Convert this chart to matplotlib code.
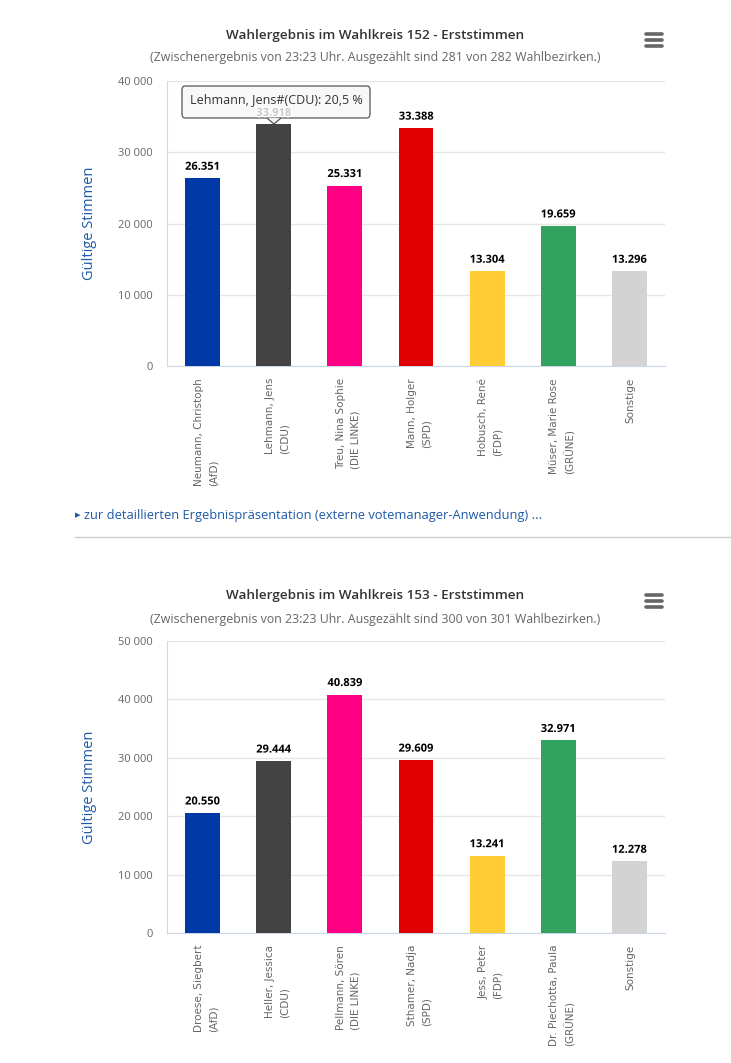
import matplotlib
matplotlib.use("Agg")
import matplotlib.pyplot as plt
import matplotlib.patheffects as pe
from matplotlib.patches import FancyBboxPatch, Polygon
from matplotlib.lines import Line2D

plt.rcParams['font.family'] = ['Open Sans', 'DejaVu Sans']

# ---------------- data ----------------
cand_152 = ["Neumann, Christoph\n(AfD)", "Lehmann, Jens\n(CDU)", "Treu, Nina Sophie\n(DIE LINKE)",
            "Mann, Holger\n(SPD)", "Hobusch, René\n(FDP)", "Müser, Marie Rose\n(GRÜNE)", "Sonstige"]
votes_152 = [26351, 33918, 25331, 33388, 13304, 19659, 13296]
ymax_152 = 40000
sub_152 = "(Zwischenergebnis von 23:23 Uhr. Ausgezählt sind 281 von 282 Wahlbezirken.)"
title_152 = "Wahlergebnis im Wahlkreis 152 - Erststimmen"

cand_153 = ["Droese, Siegbert\n(AfD)", "Heller, Jessica\n(CDU)", "Pellmann, Sören\n(DIE LINKE)",
            "Sthamer, Nadja\n(SPD)", "Jess, Peter\n(FDP)", "Dr. Piechotta, Paula\n(GRÜNE)", "Sonstige"]
votes_153 = [20550, 29444, 40839, 29609, 13241, 32971, 12278]
ymax_153 = 50000
sub_153 = "(Zwischenergebnis von 23:23 Uhr. Ausgezählt sind 300 von 301 Wahlbezirken.)"
title_153 = "Wahlergebnis im Wahlkreis 153 - Erststimmen"

colors = ["#0039a6", "#434343", "#ff0084", "#e10000", "#ffcc33", "#31a35f", "#d3d3d3"]
tooltip_text = "Lehmann, Jens#(CDU): 20,5 %"
link_text = "zur detaillierten Ergebnispräsentation (externe votemanager-Anwendung) ..."

W, H = 731, 1063
fig = plt.figure(figsize=(W / 100, H / 100), dpi=100)


def fy(y):  # pixel y from top -> figure fraction
    return 1 - y / H


def fx(x):
    return x / W


def fmt_space(v):
    return f"{int(v):,}".replace(",", " ")


def fmt_dot(v):
    return f"{int(v):,}".replace(",", ".")


def draw_chart(top, bottom, title, sub, cands, votes, ymax, title_y, sub_y, hover=None):
    ax = fig.add_axes([fx(167), fy(bottom), fx(665) - fx(167), fy(top) - fy(bottom)])
    x = list(range(len(cands)))
    ax.bar(x, votes, width=0.49, color=colors, zorder=3)
    ax.set_xlim(-0.5, len(cands) - 0.5)
    ax.set_ylim(0, ymax)
    ticks = list(range(0, ymax + 1, 10000))
    ax.set_yticks(ticks)
    ax.set_yticklabels([fmt_space(t) for t in ticks], color="#666666", fontsize=8)
    ax.tick_params(axis="y", length=0, pad=10)
    ax.tick_params(axis="x", length=0, labelbottom=False)
    ax.grid(axis="y", color="#e6e6e6", linewidth=1, zorder=0)
    for s in ["top", "right"]:
        ax.spines[s].set_visible(False)
    ax.spines["left"].set_color("#d8d8d8")
    ax.spines["bottom"].set_color("#ccd6eb")
    ax.set_ylabel("Gültige Stimmen", color="#1e5aa8", fontsize=10.5)
    ax.yaxis.set_label_coords(-0.14, 0.5)
    # category labels
    for xi, lab in zip(x, cands):
        ax.annotate(lab, xy=(xi, 0), xycoords=("data", "axes fraction"),
                    xytext=(0, -12), textcoords="offset pixels",
                    rotation=90, rotation_mode="anchor", ha="right", va="center_baseline",
                    multialignment="left", fontsize=7.5, color="#666666", linespacing=1.6,
                    family=["DejaVu Sans"])
    # value labels
    for i, (xi, v) in enumerate(zip(x, votes)):
        col = "#c8c8c8" if hover == i else "black"
        ax.annotate(fmt_dot(v), xy=(xi, v), xytext=(0, 11), textcoords="offset pixels",
                    ha="center", va="center", fontsize=8, fontweight="bold", color=col,
                    path_effects=[pe.withStroke(linewidth=2, foreground="white")],
                    zorder=12 if hover == i else 5, annotation_clip=False)
    fig.text(fx(375), fy(title_y), title, ha="center", va="center", fontsize=9.7,
             color="#333333", fontweight="semibold", stretch="condensed")
    fig.text(fx(375), fy(sub_y), sub, ha="center", va="center", fontsize=8.9, color="#666666")
    # menu icon
    for dy in (-6, 0, 6):
        fig.add_artist(Line2D([fx(646), fx(662)], [fy(title_y + 5 + dy)] * 2, color="#666666",
                              linewidth=2.6, solid_capstyle="round"))
    return ax


ax1 = draw_chart(81, 366, title_152, sub_152, cand_152, votes_152, ymax_152, 35, 58, hover=1)
ax2 = draw_chart(641, 933, title_153, sub_153, cand_153, votes_153, ymax_153, 596, 619)

# tooltip on chart 1 (semi-transparent as in the original)
tip_bg = (0.97, 0.97, 0.97, 0.85)
box = FancyBboxPatch((fx(182), fy(118)), fx(370) - fx(182), fy(86) - fy(118),
                     boxstyle="round,pad=0,rounding_size=0.004", transform=fig.transFigure,
                     facecolor=tip_bg, edgecolor="#555555", linewidth=0.9,
                     zorder=10, clip_on=False)
ax1.add_patch(box)
ptr = Polygon([[fx(267), fy(118)], [fx(274), fy(124)], [fx(281), fy(118)]], closed=False,
              transform=fig.transFigure, facecolor=tip_bg, edgecolor="#555555",
              linewidth=0.9, zorder=11, clip_on=False)
ax1.add_patch(ptr)
ax1.text(fx(276), fy(100), tooltip_text, ha="center", va="center", fontsize=9,
         color="#333333", zorder=13, transform=fig.transFigure, clip_on=False)

# link line and separator
fig.text(fx(75), fy(515), "\u25B8", ha="left", va="center", fontsize=8, color="#1e5aa8",
         family=["DejaVu Sans"])
fig.text(fx(84), fy(515), link_text, ha="left", va="center", fontsize=9.3, color="#1e5aa8")
fig.add_artist(Line2D([fx(75), 1.0], [fy(537)] * 2, color="#cccccc", linewidth=1))

fig.savefig("out.png", dpi=100)
